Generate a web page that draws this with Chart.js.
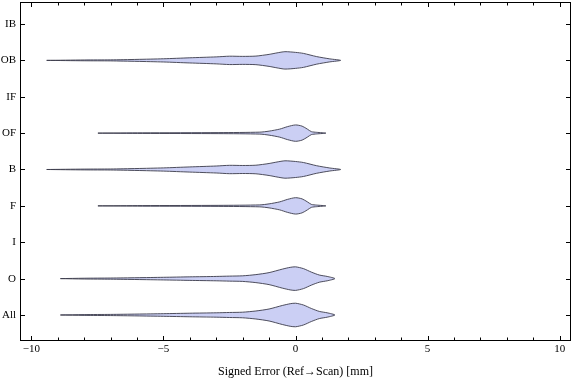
<!DOCTYPE html>
<html>
<head>
<meta charset="utf-8">
<script src="https://cdn.jsdelivr.net/npm/chart.js@4/dist/chart.umd.min.js"></script>
<style>
html, body { margin: 0; padding: 0; background: #fff; }
</style>
</head>
<body>
<canvas id="violin_chart" width="576" height="381"></canvas>
<script>
// rows from bottom to top
var row_labels = ['All', 'O', 'I', 'F', 'B', 'OF', 'IF', 'OB', 'IB'];

// violin outlines: signed error [mm] and half width (in row units)
var o_err   = [-8.9, -8, -7, -6, -5, -4, -3, -2.5, -2, -1.5, -1, -0.5, -0.2, 0, 0.3, 0.6, 0.9, 1.2, 1.49];
var o_width = [0, 0.011, 0.016, 0.025, 0.036, 0.049, 0.06, 0.069, 0.077, 0.11, 0.165, 0.261, 0.31, 0.324, 0.275, 0.179, 0.099, 0.06, 0];

var f_err   = [-7.48, -5.8, -2.9, -1.35, -1, -0.6, -0.3, 0, 0.25, 0.45, 0.6, 0.8, 1.15];
var f_width = [0, 0.008, 0.014, 0.027, 0.055, 0.11, 0.179, 0.225, 0.192, 0.11, 0.041, 0.022, 0];

var b_err   = [-9.42, -8, -7, -6, -5, -4, -3, -2.5, -2, -1.5, -1, -0.7, -0.4, 0, 0.3, 0.8, 1.3, 1.71];
var b_width = [0, 0.011, 0.014, 0.027, 0.044, 0.071, 0.096, 0.115, 0.11, 0.118, 0.165, 0.206, 0.239, 0.22, 0.192, 0.104, 0.041, 0];

// which outline belongs to which row (empty rows have none)
var row_shapes = {
    'All': [o_err, o_width],
    'O': [o_err, o_width],
    'F': [f_err, f_width],
    'B': [b_err, b_width],
    'OF': [f_err, f_width],
    'OB': [b_err, b_width]
};

function violinPoints(err, width, row) {
    var pts = [];
    for (var i = 0; i < err.length; i++) {
        pts.push({x: err[i], y: row + width[i]});
    }
    for (var j = err.length - 2; j >= 0; j--) {
        pts.push({x: err[j], y: row - width[j]});
    }
    return pts;
}

function buildDatasets() {
    var sets = [];
    for (var r = 0; r < row_labels.length; r++) {
        var shape = row_shapes[row_labels[r]];
        if (!shape) continue;
        sets.push({
            label: row_labels[r],
            data: violinPoints(shape[0], shape[1], r + 1),
            showLine: true,
            fill: 'shape',
            backgroundColor: '#cbcff4',
            borderColor: 'rgba(60,60,75,0.9)',
            borderWidth: 1,
            pointRadius: 0,
            tension: 0.25
        });
    }
    return sets;
}

var frameTicks = {
    id: 'frameTicks',
    afterDraw: function(chart) {
        var ctx = chart.ctx, a = chart.chartArea;
        var xs = chart.scales.x, ys = chart.scales.y;
        ctx.save();
        ctx.strokeStyle = '#000';
        ctx.lineWidth = 1;
        ctx.strokeRect(a.left + 0.5, a.top + 0.5, a.right - a.left - 1, a.bottom - a.top - 1);
        ctx.beginPath();
        for (var v = -10; v <= 10; v++) {
            var px = Math.round(xs.getPixelForValue(v)) + 0.5;
            var len = v % 5 == 0 ? 5 : 3.5;
            ctx.moveTo(px, a.bottom); ctx.lineTo(px, a.bottom - len);
            ctx.moveTo(px, a.top); ctx.lineTo(px, a.top + len);
        }
        for (var r = 1; r <= row_labels.length; r++) {
            var py = Math.round(ys.getPixelForValue(r)) + 0.5;
            ctx.moveTo(a.left, py); ctx.lineTo(a.left + 5, py);
            ctx.moveTo(a.right, py); ctx.lineTo(a.right - 5, py);
        }
        ctx.stroke();
        ctx.restore();
    }
};

var serif = '"Liberation Serif", "Times New Roman", serif';

new Chart(document.getElementById('violin_chart'), {
    type: 'scatter',
    data: { datasets: buildDatasets() },
    options: {
        responsive: false,
        animation: false,
        layout: { padding: { top: 2, right: 5, left: 0, bottom: 0 } },
        plugins: {
            legend: { display: false },
            tooltip: { enabled: false }
        },
        scales: {
            x: {
                type: 'linear',
                min: -10.43,
                max: 10.43,
                afterBuildTicks: function(scale) {
                    scale.ticks = [-10, -5, 0, 5, 10].map(function(v) { return {value: v}; });
                },
                afterFit: function(scale) {
                    scale.height = 40;
                    scale.paddingLeft = 0;
                    scale.paddingRight = 0;
                },
                grid: { display: false, drawTicks: false },
                border: { display: false },
                ticks: {
                    padding: 2,
                    maxRotation: 0,
                    autoSkip: false,
                    color: '#000',
                    font: { family: serif, size: 11 },
                    callback: function(v) { return v < 0 ? '\u2212' + (-v) : '' + v; }
                },
                title: {
                    display: true,
                    text: 'Signed Error (Ref\u2192Scan) [mm]',
                    color: '#000',
                    font: { family: serif, size: 12 },
                    padding: { top: 0, bottom: 2 }
                }
            },
            y: {
                type: 'linear',
                min: 0.285,
                max: 9.605,
                afterBuildTicks: function(scale) {
                    scale.ticks = row_labels.map(function(l, i) { return {value: i + 1}; });
                },
                afterFit: function(scale) {
                    scale.width = 20;
                    scale.paddingTop = 0;
                    scale.paddingBottom = 0;
                },
                grid: { display: false, drawTicks: false },
                border: { display: false },
                ticks: {
                    padding: 4,
                    autoSkip: false,
                    color: '#000',
                    font: { family: serif, size: 11 },
                    callback: function(v) { return row_labels[v - 1]; }
                }
            }
        }
    },
    plugins: [frameTicks]
});
</script>
</body>
</html>
